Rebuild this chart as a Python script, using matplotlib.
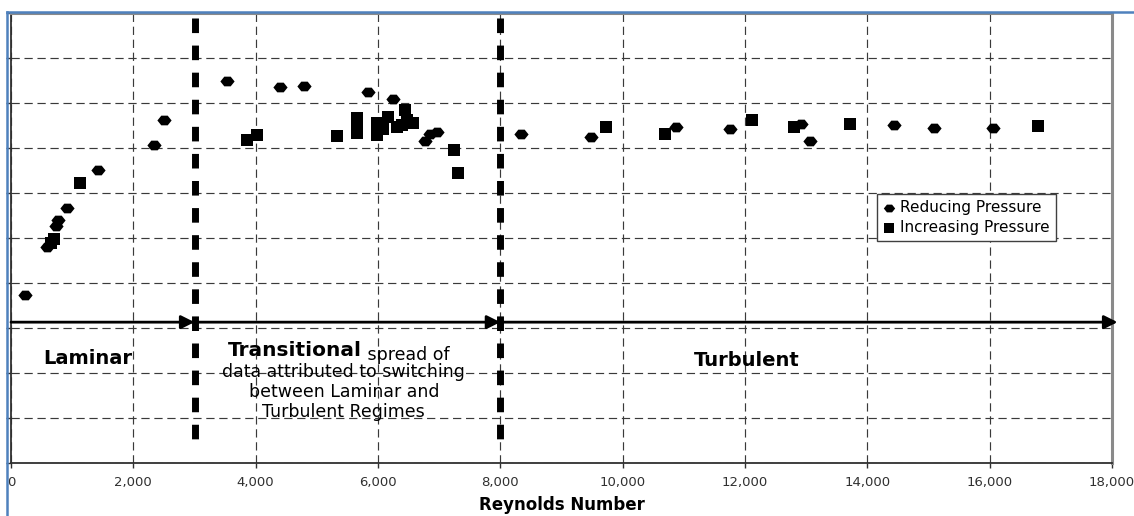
import matplotlib
matplotlib.use("Agg")
import matplotlib.pyplot as plt
from matplotlib.lines import Line2D
from matplotlib.path import Path

# Reynolds number vs (unlabelled) response
reducing_re = [229, 588, 735, 768, 915, 1422, 2337, 2500, 3529, 4395, 4788,
               5833, 6242, 6765, 6847, 6961, 8333, 9477, 10866, 11748,
               12909, 13056, 14428, 15082, 16062]
reducing_y = [3.73, 4.80, 5.27, 5.40, 5.67, 6.51, 7.07, 7.62, 8.49, 8.36, 8.38,
              8.24, 8.09, 7.16, 7.31, 7.36, 7.31, 7.24, 7.47, 7.42,
              7.53, 7.16, 7.51, 7.44, 7.44]

increasing_re = [654, 703, 1127, 3856, 4020, 5327, 5654, 5654, 5654, 5980,
                 5980, 6078, 6160, 6307, 6389, 6438, 6471, 6569, 7239, 7304,
                 9722, 10686, 12108, 12794, 13709, 16798]
increasing_y = [4.89, 4.98, 6.22, 7.18, 7.29, 7.27, 7.67, 7.49, 7.33, 7.56,
                7.29, 7.42, 7.69, 7.47, 7.51, 7.84, 7.62, 7.56, 6.96, 6.44,
                7.47, 7.31, 7.62, 7.47, 7.53, 7.49]

x_ticks = [0, 2000, 4000, 6000, 8000, 10000, 12000, 14000, 16000, 18000]
x_tick_labels = ["0", "2,000", "4,000", "6,000", "8,000", "10,000", "12,000",
                 "14,000", "16,000", "18,000"]
regime_bounds = [3000, 8000]

W, H = 1134, 516
fig = plt.figure(figsize=(W / 100, H / 100), dpi=100)
ax = fig.add_axes([11 / W, 53 / H, 1101 / W, 450 / H])
ax.set_xlim(0, 18000)
ax.set_ylim(0, 10)

# flattened diamond like the Excel marker
hexa = Path([(-1, 0), (-0.45, 0.68), (0.45, 0.68), (1, 0), (0.45, -0.68),
             (-0.45, -0.68), (-1, 0)])

ax.grid(True, color="#3a3a3a", linestyle=(0, (7, 4)), linewidth=0.85)
ax.set_axisbelow(True)
ax.set_xticks(x_ticks)
ax.set_xticklabels(x_tick_labels)
ax.set_yticks(range(0, 11))
ax.set_yticklabels([])
ax.tick_params(axis="both", direction="out", length=3.5, width=1,
               color="#303030")
ax.tick_params(axis="x", labelsize=9.5, labelcolor="#303030", pad=6)
for lab in ax.get_xticklabels():
    lab.set_family("DejaVu Sans")

for side in ["left", "bottom"]:
    ax.spines[side].set_color("#303030")
    ax.spines[side].set_linewidth(1.3)
for side in ["right", "top"]:
    ax.spines[side].set_color("#8a8a8a")
    ax.spines[side].set_linewidth(2.2)

ax.scatter(reducing_re, reducing_y, marker=hexa, s=105, color="black",
           zorder=4, label="Reducing Pressure", linewidths=0)
ax.scatter(increasing_re, increasing_y, marker="s", s=74, color="black",
           zorder=4, label="Increasing Pressure", linewidths=0)

# regime boundaries, dashes starting from the top
for xb in regime_bounds:
    ax.plot([xb, xb], [9.9, 0.33], color="black", lw=5,
            linestyle=(0, (2.1, 1.8)), solid_capstyle="butt",
            dash_capstyle="butt", zorder=3)

# regime arrows
ya = 3.13
arr = dict(color="black", lw=2, mutation_scale=20, shrinkA=0, shrinkB=0)
ax.annotate("", xy=(3000, ya), xytext=(0, ya),
            arrowprops=dict(arrowstyle="-|>", **arr), zorder=5)
ax.annotate("", xy=(8000, ya), xytext=(3000, ya),
            arrowprops=dict(arrowstyle="-|>", **arr), zorder=5)
ax.annotate("", xy=(18090, ya), xytext=(8000, ya),
            arrowprops=dict(arrowstyle="-|>", **arr), zorder=5,
            annotation_clip=False)

ax.text(1258, 2.33, "Laminar", ha="center", va="center", fontsize=14,
        fontweight="bold", family="DejaVu Sans", zorder=6)
ax.text(12026, 2.27, "Turbulent", ha="center", va="center", fontsize=14,
        fontweight="bold", family="DejaVu Sans", zorder=6)
t1 = ax.text(3546, 2.38, "Transitional", ha="left", va="baseline",
             fontsize=14.5, fontweight="bold", family="DejaVu Sans", zorder=6)
ax.annotate(" spread of", xy=(1, 0), xycoords=t1, ha="left", va="baseline",
            fontsize=12.5, family="DejaVu Sans", zorder=6)
for yy, line in zip([2.02, 1.58, 1.13],
                    ["data attributed to switching", "between Laminar and",
                     "Turbulent Regimes"]):
    ax.text(5441, yy, line, ha="center", va="center", fontsize=12.5,
            family="DejaVu Sans", zorder=6)

ax.set_xlabel("Reynolds Number", fontsize=12, fontweight="bold",
              family="DejaVu Sans", labelpad=5)

leg = ax.legend(loc="upper left", bbox_to_anchor=(0.7866, 0.598),
                borderaxespad=0, fancybox=False, framealpha=1,
                edgecolor="#404040",
                prop={"family": "DejaVu Sans", "size": 11},
                handlelength=0.8, handletextpad=0.3, borderpad=0.4,
                labelspacing=0.35, markerscale=0.8)
leg.get_frame().set_linewidth(1)

# blue frame of the embedded picture
fig.add_artist(Line2D([7 / W, 7 / W], [0, 1 - 12 / H], color="#4F81BD",
                      lw=1.8, transform=fig.transFigure))
fig.add_artist(Line2D([7 / W, 1], [1 - 12 / H, 1 - 12 / H], color="#4F81BD",
                      lw=1.8, transform=fig.transFigure))

fig.savefig("out.png", dpi=100)
